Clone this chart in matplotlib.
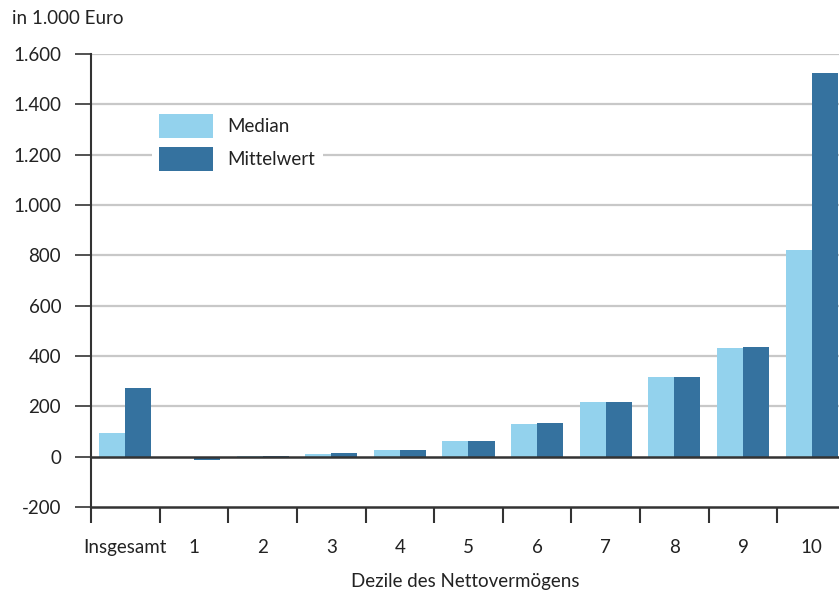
import matplotlib
matplotlib.use("Agg")
import matplotlib.pyplot as plt
from matplotlib.patches import Patch
import numpy as np

# Net wealth by decile, in thousand euro
categories = ["Insgesamt", "1", "2", "3", "4", "5", "6", "7", "8", "9", "10"]
median = [95, -2, 1, 12, 28, 64, 131, 218, 318, 433, 822]
mittelwert = [272, -12, 2, 13, 28, 64, 135, 218, 318, 437, 1525]
yticks = [-200, 0, 200, 400, 600, 800, 1000, 1200, 1400, 1600]
ytick_labels = ["-200", "0", "200", "400", "600", "800", "1.000", "1.200", "1.400", "1.600"]

c_median = "#93D2ED"
c_mean = "#35729F"
dark = "#333333"
grid = "#C8C8C8"

plt.rcParams["font.family"] = ["Lato", "DejaVu Sans"]
FS = 13.5

W, H = 839, 595
fig = plt.figure(figsize=(W / 100, H / 100), dpi=100)
ax = fig.add_axes([91 / W, 1 - 507 / H, 755 / W, (507 - 54) / H])

x = np.arange(len(categories))
bw = 0.38
ax.bar(x - bw / 2, median, width=bw, color=c_median, zorder=3, label="Median")
ax.bar(x + bw / 2, mittelwert, width=bw, color=c_mean, zorder=3, label="Mittelwert")

ax.set_xlim(-0.5, len(categories) - 0.5)
ax.set_ylim(-200, 1600)

# gridlines and zero line
for v in yticks:
    if v > 0:
        ax.axhline(v, color=grid, lw=1.6, zorder=1)
ax.axhline(0, color=dark, lw=1.8, zorder=4)

for s in ["top", "right"]:
    ax.spines[s].set_visible(False)
ax.spines["left"].set_color(dark)
ax.spines["left"].set_linewidth(1.5)
ax.spines["bottom"].set_color(dark)
ax.spines["bottom"].set_linewidth(1.8)

ax.set_yticks(yticks)
ax.set_yticklabels(ytick_labels, fontsize=FS, color="#222222")
ax.tick_params(axis="y", length=11.5, width=1.2, color=dark, pad=10)

# category boundaries as ticks, labels at the centres
ax.set_xticks(np.arange(-0.5, len(categories), 1.0))
ax.set_xticklabels([])
ax.set_xticks(x, minor=True)
ax.set_xticklabels(categories, minor=True, fontsize=FS, color="#222222")
ax.tick_params(axis="x", which="major", length=11.5, width=1.5, color=dark)
ax.tick_params(axis="x", which="minor", length=0, pad=23)

fig.text(12 / W, 1 - 18 / H, "in 1.000 Euro", fontsize=FS, color="#222222",
         ha="left", va="center")
fig.text(465 / W, 1 - 581 / H, "Dezile des Nettovermögens", fontsize=FS,
         color="#222222", ha="center", va="center")

handles = [Patch(facecolor=c_median, edgecolor="none", label="Median"),
           Patch(facecolor=c_mean, edgecolor="none", label="Mittelwert")]
leg = fig.legend(handles=handles, loc="upper left",
                 bbox_to_anchor=(151.5 / W, 1 - 106.5 / H),
                 bbox_transform=fig.transFigure,
                 fontsize=FS, frameon=True, fancybox=False,
                 handlelength=2.9, handleheight=1.6, handletextpad=0.75,
                 labelspacing=0.45, borderpad=0.4, borderaxespad=0)
leg.get_frame().set_facecolor("white")
leg.get_frame().set_edgecolor("none")
leg.get_frame().set_alpha(1)
for t in leg.get_texts():
    t.set_color("#222222")

fig.savefig("out.png", dpi=100, facecolor="white")
